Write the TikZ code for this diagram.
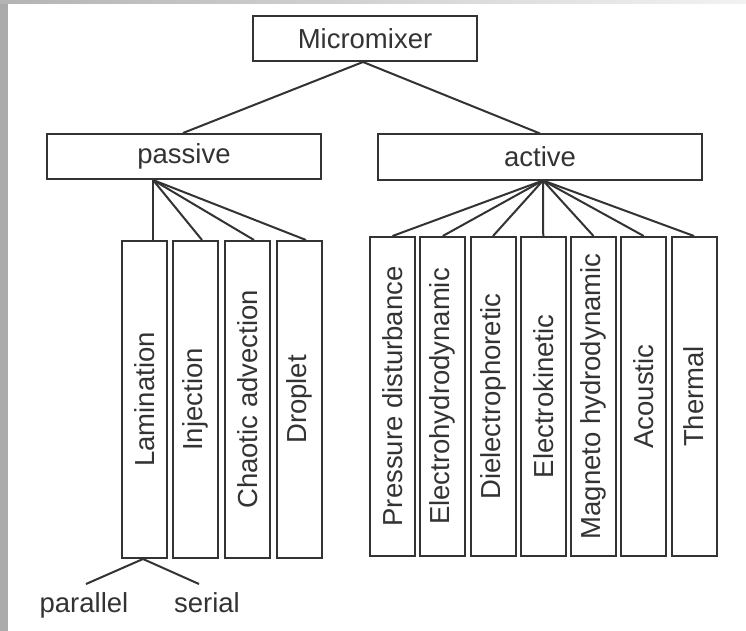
\documentclass[tikz,border=0pt]{standalone}
\usepackage{fontspec}
\setmainfont{Liberation Sans}
\usepackage{graphicx}
\definecolor{ink}{HTML}{333333}
\definecolor{band}{HTML}{ABABAB}
\definecolor{topl}{HTML}{B4B4B4}
\definecolor{topr}{HTML}{F2F2F2}
\begin{document}
\begin{tikzpicture}[x=1pt,y=-1pt,
  box/.style={draw=ink, line width=2pt, inner sep=0pt, text=ink, font=\fontsize{27.5}{33}\selectfont},
  hbox/.style={box, minimum height=45pt},
  vbox/.style={box, minimum width=45pt},
  link/.style={draw=ink, line width=2pt},
  lbl/.style={text=ink, inner sep=0pt, anchor=base, font=\fontsize{27.5}{33}\selectfont}]
\fill[white] (0,0) rectangle (746,631);
\useasboundingbox (0,0) rectangle (746,631);
\fill[band] (0,0) rectangle (8,631);
\shade[left color=topl, right color=topr] (0,0) rectangle (746,4);

% top levels
\node[hbox, minimum width=224pt] (mm) at (365,38.5) {Micromixer};
\node[hbox, minimum width=274pt] (pas) at (184,156.5) {passive};
\node[hbox, minimum width=324pt] (act) at (540,157) {active};

% passive children
\node[vbox, minimum height=317pt] (lam) at (144.5,399.5) {\rotatebox{90}{Lamination}};
\node[vbox, minimum height=317pt] (inj) at (195.5,399.5) {\rotatebox{90}{Injection}};
\node[vbox, minimum height=317pt] (cha) at (247.5,399.5) {\rotatebox{90}{Chaotic advection}};
\node[vbox, minimum height=317pt] (dro) at (299.5,399.5) {\rotatebox{90}{Droplet}};

% active children
\node[vbox, minimum height=319pt] (pre) at (392.5,396.5) {\rotatebox{90}{Pressure disturbance}};
\node[vbox, minimum height=319pt] (ehd) at (442.75,396.5) {\rotatebox{90}{Electrohydrodynamic}};
\node[vbox, minimum height=319pt] (die) at (493,396.5) {\rotatebox{90}{Dielectrophoretic}};
\node[vbox, minimum height=319pt] (ekn) at (543.25,396.5) {\rotatebox{90}{Electrokinetic}};
\node[vbox, minimum height=319pt] (mhd) at (593.5,396.5) {\rotatebox{90}{Magneto hydrodynamic}};
\node[vbox, minimum height=319pt] (aco) at (643.75,396.5) {\rotatebox{90}{Acoustic}};
\node[vbox, minimum height=319pt] (the) at (694,396.5) {\rotatebox{90}{Thermal}};

% lamination sub-labels
\coordinate (parend) at (86,584);
\coordinate (serend) at (199,584);
\node[lbl] (par) at (84,612) {parallel};
\node[lbl] (ser) at (207,612) {serial};

% connectors
\coordinate (mmapex) at ([xshift=-2pt]mm.south);
\draw[link] (mmapex) -- ([xshift=-1pt]pas.north);
\draw[link] (mmapex) -- (act.north);

\coordinate (papex) at ([xshift=-31pt]pas.south);
\draw[link] (papex) -- ([xshift=8.5pt]lam.north);
\draw[link] (papex) -- ([xshift=6.5pt]inj.north);
\draw[link] (papex) -- ([xshift=6.5pt]cha.north);
\draw[link] (papex) -- ([xshift=6.5pt]dro.north);

\coordinate (aapex) at ([xshift=3pt]act.south);
\foreach \n in {pre,ehd,die,ekn,mhd,aco,the}
  \draw[link] (aapex) -- (\n.north);

\coordinate (lamfoot) at ([xshift=-1.5pt]lam.south);
\draw[link] (lamfoot) -- (parend);
\draw[link] (lamfoot) -- (serend);
\end{tikzpicture}
\end{document}
